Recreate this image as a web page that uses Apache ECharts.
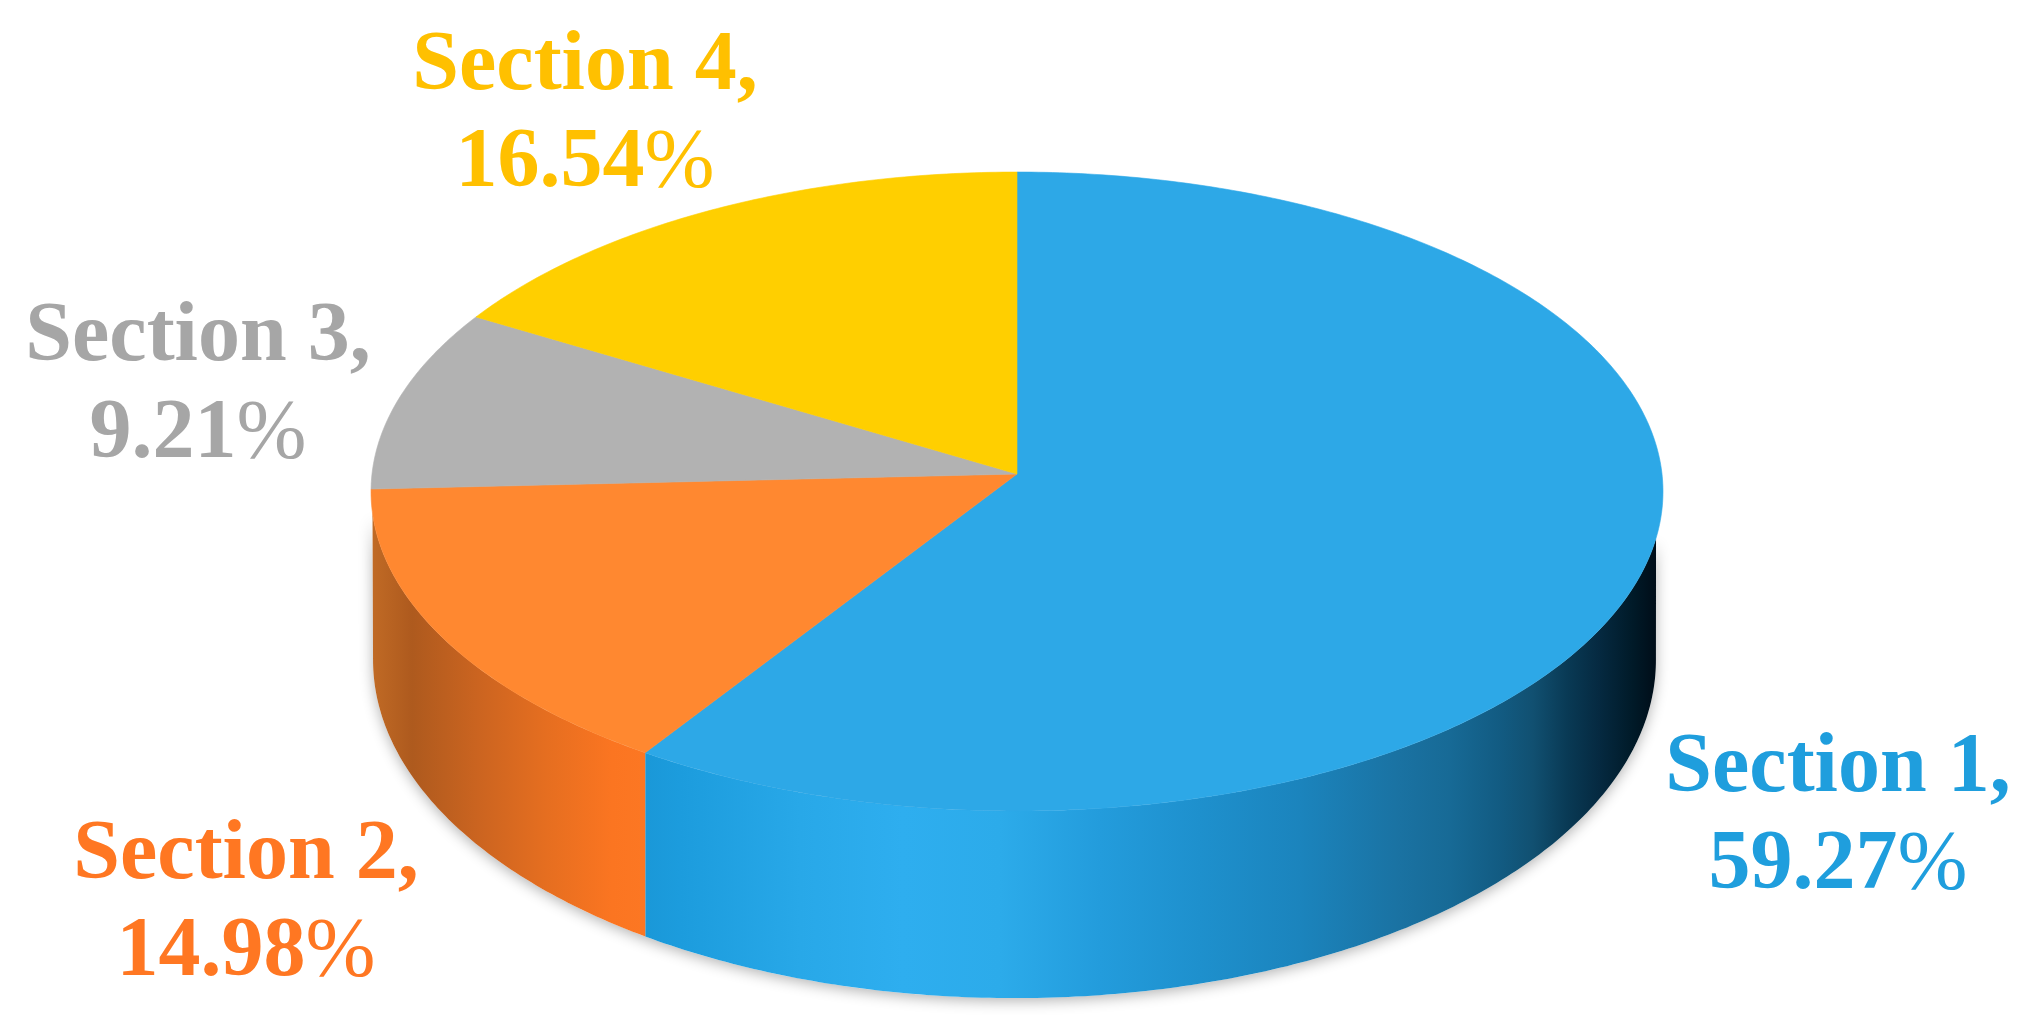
<!DOCTYPE html>
<html>
<head>
<meta charset="utf-8">
<style>html,body{margin:0;padding:0;background:#fff}#chart{width:2024px;height:1025px}</style>
<script src="https://cdn.jsdelivr.net/npm/echarts@6/dist/echarts.min.js"></script>
</head>
<body>
<div id="chart"></div>
<script>
// ---- data ----
const sectionNames  = ['Section 1', 'Section 2', 'Section 3', 'Section 4'];
const sectionValues = [59.27, 14.98, 9.21, 16.54];

// ---- styles ----
const topColors   = ['#2da8e7', '#ff8830', '#b2b2b2', '#ffcf00'];
const labelColors = ['#1f9edd', '#ff7722', '#a6a6a6', '#ffc000'];
// wall shading: [pixel x on the canvas, colour]
const wallShades = [
  [[645,'#1a98d8'],[680,'#1c9cdd'],[800,'#28a8e8'],[903,'#2eaeef'],[1000,'#2cabea'],[1100,'#239cdc'],
   [1200,'#1e90cd'],[1300,'#1b84bd'],[1400,'#1a72a2'],[1450,'#176a96'],[1500,'#125b82'],[1533,'#115071'],
   [1567,'#093a55'],[1600,'#052940'],[1633,'#001a28'],[1660,'#000d18']],
  [[372,'#c06a25'],[412,'#ae5a1e'],[478,'#cb6420'],[545,'#e56e20'],[612,'#fb7521'],[650,'#fc7723']],
  null, null
];
// ---- layout ----
const PERSPECTIVE = 0.0548;   // far side of the disc looks smaller
const TOP_RIM = { sx: 1, sy: 1, dx: 0, drop: 0 };
const LOW_RIM = { sx: 0.993, sy: 1.0582, dx: -0.0039, drop: -0.526 };
// visible part of the wall, degrees clockwise from 12 o'clock
const WALL_TOP_FROM = 101.5, WALL_TOP_TO = 263, WALL_LOW_FROM = 93, WALL_LOW_TO = 267;
const labelAnchors = [[1838, 818], [246, 905], [198, 387], [585, 116]];
const LABEL_FAMILY = '"Liberation Serif", serif';
const LABEL_SIZE = 84;
const LABEL_LINE = 97;

const total = sectionValues.reduce((a, b) => a + b, 0);
const startDeg = [], endDeg = [];
let acc = 0;
sectionValues.forEach((v, i) => { startDeg[i] = acc / total * 360; acc += v; endDeg[i] = acc / total * 360; });

function rim(deg, r) {
  const t = deg * Math.PI / 180, u = Math.sin(t), v = Math.cos(t), w = 1 + PERSPECTIVE * v;
  return [r.sx * u / w + r.dx, r.sy * v / w + r.drop];
}
function arc(a, b, r, api) {
  const pts = [], n = Math.max(2, Math.ceil(Math.abs(b - a) * 1.5));
  for (let i = 0; i <= n; i++) pts.push(api.coord(rim(a + (b - a) * i / n, r)));
  return pts;
}
// wall between two angles: each rim clipped to the part of it that shows
function wallPoints(a, b, api) {
  const top = arc(Math.max(a, WALL_TOP_FROM), Math.min(b, WALL_TOP_TO), TOP_RIM, api);
  const low = arc(Math.min(b, WALL_LOW_TO), Math.max(a, WALL_LOW_FROM), LOW_RIM, api);
  return top.concat(low);
}

const renderBase = (params, api) => {
  if (params.dataIndex !== 0) return;
  return {
    type: 'polygon', silent: true,
    shape: { points: wallPoints(0, 360, api) },
    style: { fill: '#fff', shadowColor: 'rgba(0,0,0,0.3)', shadowBlur: 14, shadowOffsetY: 3 }
  };
};
const renderWall = (params, api) => {
  const i = params.dataIndex, shade = wallShades[i];
  if (!shade) return;
  const pts = wallPoints(startDeg[i], endDeg[i], api);
  const xs = pts.map(p => p[0]), x0 = Math.min(...xs), x1 = Math.max(...xs);
  const stops = shade.map(s => ({
    offset: Math.min(1, Math.max(0, (s[0] - x0) / (x1 - x0))), color: s[1]
  }));
  return {
    type: 'polygon', silent: true, shape: { points: pts },
    style: { fill: new echarts.graphic.LinearGradient(0, 0, 1, 0, stops) }
  };
};
const renderTop = (params, api) => {
  const i = params.dataIndex;
  const pts = [api.coord([0, 0])].concat(arc(startDeg[i], endDeg[i], TOP_RIM, api));
  return {
    type: 'polygon', shape: { points: pts },
    style: { fill: topColors[i], stroke: topColors[i], lineWidth: 0.6 }
  };
};
const renderLabel = (params) => {
  const i = params.dataIndex, c = labelColors[i];
  return {
    type: 'text', silent: true,
    style: {
      x: labelAnchors[i][0], y: labelAnchors[i][1],
      text: '{b|' + sectionNames[i] + ',}\n{b|' + sectionValues[i].toFixed(2) + '}{p|%}',
      fill: c, fontFamily: LABEL_FAMILY, fontSize: LABEL_SIZE,
      align: 'center', verticalAlign: 'middle',
      rich: {
        b: { fill: c, fontFamily: LABEL_FAMILY, fontSize: LABEL_SIZE, fontWeight: 'bold', lineHeight: LABEL_LINE },
        p: { fill: c, fontFamily: LABEL_FAMILY, fontSize: LABEL_SIZE, fontWeight: 'normal', lineHeight: LABEL_LINE }
      }
    }
  };
};

const seriesData = sectionValues.map((v, i) => [i, v]);
const chart = echarts.init(document.getElementById('chart'), null, { renderer: 'canvas' });
chart.setOption({
  animation: false,
  backgroundColor: '#fff',
  grid: { left: 372, width: 1290, top: 155.5, height: 637 },
  xAxis: { type: 'value', min: -1, max: 1, show: false },
  yAxis: { type: 'value', min: -1, max: 1, show: false },
  series: [
    { type: 'custom', z: 1, clip: false, renderItem: renderBase, data: seriesData },
    { type: 'custom', z: 2, clip: false, renderItem: renderWall, data: seriesData },
    { type: 'custom', z: 3, clip: false, renderItem: renderTop,  data: seriesData },
    { type: 'custom', z: 4, clip: false, renderItem: renderLabel, data: seriesData }
  ]
});
</script>
</body>
</html>
